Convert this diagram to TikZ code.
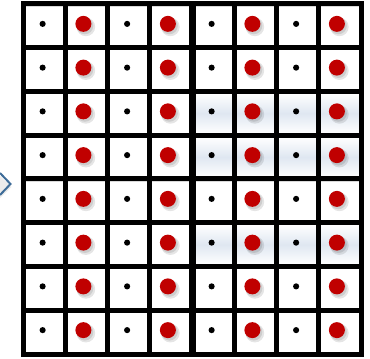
\documentclass[tikz,border=0pt]{standalone}
\usepackage{tikz}
\usetikzlibrary{calc}
\definecolor{dotred}{HTML}{C00000}
\definecolor{chevblue}{HTML}{3E6C98}
\definecolor{tintblue}{HTML}{DFE7F1}
\tikzset{
  cellbox/.style={draw=gray!30,line width=0.4pt,fill=white,inner sep=0pt,
    minimum width=28.9pt,minimum height=30.1pt},
  tintbox/.style={cellbox,top color=white,bottom color=white,middle color=tintblue},
  gridline/.style={black,line width=3.75pt},
}

\begin{document}
\begin{tikzpicture}[x=0.75pt,y=-0.75pt]
  \useasboundingbox (0,0) rectangle (370,359);
  % cells of the 8x8 board, odd columns small black dot, even columns red dot
  \foreach \r in {1,...,8}
    \foreach \c in {1,...,8}{
      \pgfmathsetmacro{\cx}{23+(\c-0.5)*42.25}
      \pgfmathsetmacro{\cy}{4+(\r-0.5)*43.75}
      \ifnum\c>4
        \ifnum\r=3 \def\sty{tintbox}\else
        \ifnum\r=4 \def\sty{tintbox}\else
        \ifnum\r=6 \def\sty{tintbox}\else \def\sty{cellbox}\fi\fi\fi
      \else \def\sty{cellbox}\fi
      \node[\sty] (cell-\r-\c) at (\cx,\cy) {};
      \ifodd\c
        \fill[black] ($(cell-\r-\c)+(-1.5,-2)$) circle (2.3pt);
      \else
        \fill[black,opacity=0.10] ($(cell-\r-\c)+(-0.5,1)$) circle (7pt);
        \fill[black,opacity=0.10] ($(cell-\r-\c)+(-1.5,0)$) circle (6.3pt);
        \fill[dotred] ($(cell-\r-\c)+(-3,-2)$) circle (6pt);
      \fi
    }
  % black grid lines
  \foreach \i in {1,...,7}{
    \draw[gridline] ({23+\i*42.25},4) -- ({23+\i*42.25},354);
    \draw[gridline] (23,{4+\i*43.75}) -- (361,{4+\i*43.75});
  }
  \draw[gridline,line width=5.25pt] (192,4) -- (192,354);
  \draw[gridline,line cap=rect] (23,4) rectangle (361,354);
  % cut-off arrow head on the left
  \fill[black,opacity=0.08] (0,176) -- (11.5,187) -- (0,198) -- cycle;
  \draw[chevblue,line width=1.5pt,line join=miter] (0,173) -- (10.5,184) -- (0,195);
\end{tikzpicture}
\end{document}
